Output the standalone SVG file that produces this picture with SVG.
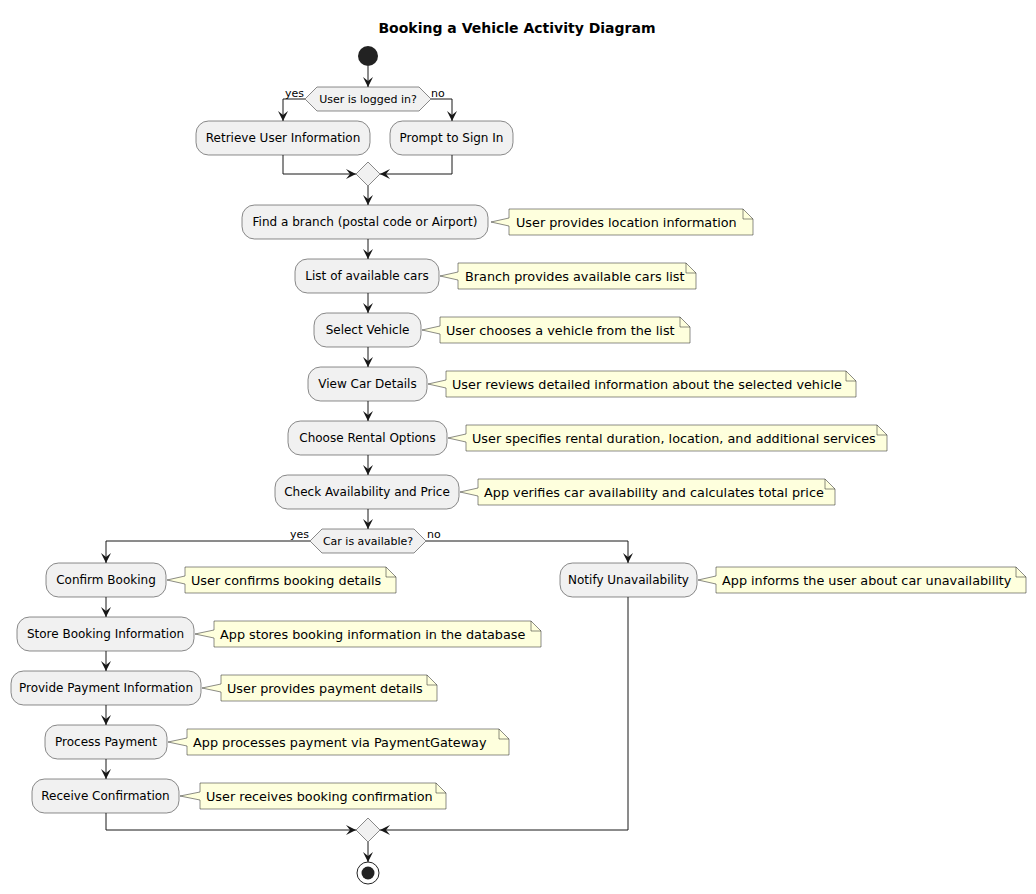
<svg xmlns="http://www.w3.org/2000/svg" width="1036" height="894" viewBox="0 0 1036 894">
  <defs>
    <marker id="arrow" viewBox="0 0 10 10" refX="10" refY="5" markerWidth="10" markerHeight="10" markerUnits="userSpaceOnUse" orient="auto">
      <path d="M0,0 L10,5 L0,10 L4,5 Z" fill="#181818"/>
    </marker>
  </defs>
  <style>
    text { font-family: "DejaVu Sans", "Liberation Sans", sans-serif; fill: #000000; }
    .title { font-size: 14px; font-weight: bold; text-anchor: middle; }
    .act rect { fill: #F1F1F1; stroke: #181818; stroke-width: 0.5; }
    .act text { font-size: 12px; text-anchor: middle; }
    .dec polygon { fill: #F1F1F1; stroke: #181818; stroke-width: 0.5; }
    .dec text { font-size: 11px; text-anchor: middle; }
    .lbl { font-size: 11px; }
    .note polygon { fill: #FEFFDD; stroke: #181818; stroke-width: 0.5; }
    .note path { fill: none; stroke: #181818; stroke-width: 0.5; }
    .note text { font-size: 12.8px; }
    .edges path { fill: none; stroke: #181818; stroke-width: 1; marker-end: url(#arrow); }
  </style>
  <rect x="0" y="0" width="1036" height="894" fill="#FFFFFF"/>

  <text class="title" x="517" y="33">Booking a Vehicle Activity Diagram</text>

  <!-- start / end -->
  <g id="start"><circle cx="368" cy="56" r="10" fill="#222222"/></g>
  <g id="end">
    <circle cx="368" cy="873" r="11" fill="none" stroke="#222222" stroke-width="1"/>
    <circle cx="368" cy="873" r="6.5" fill="#222222"/>
  </g>

  <!-- decisions and merges -->
  <g id="dec-login" class="dec">
    <polygon points="305,99 317,87 419,87 431,99 419,111 317,111"/>
    <text x="368" y="103">User is logged in?</text>
  </g>
  <g id="merge-login" class="dec"><polygon points="368,162 380,174 368,186 356,174"/></g>
  <g id="dec-available" class="dec">
    <polygon points="310,541 322,529 414,529 426,541 414,553 322,553"/>
    <text x="368" y="545">Car is available?</text>
  </g>
  <g id="merge-end" class="dec"><polygon points="368,818 380,830 368,842 356,830"/></g>

  <!-- activities -->
  <g id="retrieve" class="act"><rect x="196" y="121" width="174" height="34" rx="12.5"/><text x="283" y="142">Retrieve User Information</text></g>
  <g id="prompt" class="act"><rect x="390" y="121" width="123" height="34" rx="12.5"/><text x="451.5" y="142">Prompt to Sign In</text></g>
  <g id="find" class="act"><rect x="242" y="205" width="246" height="34" rx="12.5"/><text x="365" y="226">Find a branch (postal code or Airport)</text></g>
  <g id="list" class="act"><rect x="295" y="259" width="144" height="34" rx="12.5"/><text x="367" y="280">List of available cars</text></g>
  <g id="select" class="act"><rect x="314" y="313" width="107" height="34" rx="12.5"/><text x="367.5" y="334">Select Vehicle</text></g>
  <g id="view" class="act"><rect x="308" y="367" width="119" height="34" rx="12.5"/><text x="367.5" y="388">View Car Details</text></g>
  <g id="choose" class="act"><rect x="288" y="421" width="159" height="34" rx="12.5"/><text x="367.5" y="442">Choose Rental Options</text></g>
  <g id="check" class="act"><rect x="275" y="475" width="184" height="34" rx="12.5"/><text x="367" y="496">Check Availability and Price</text></g>
  <g id="confirm" class="act"><rect x="46" y="563" width="120" height="34" rx="12.5"/><text x="106" y="584">Confirm Booking</text></g>
  <g id="notify" class="act"><rect x="560" y="563" width="137" height="34" rx="12.5"/><text x="628.5" y="584">Notify Unavailability</text></g>
  <g id="store" class="act"><rect x="17" y="617" width="177" height="34" rx="12.5"/><text x="105.5" y="638">Store Booking Information</text></g>
  <g id="provide" class="act"><rect x="11" y="671" width="190" height="34" rx="12.5"/><text x="106" y="692">Provide Payment Information</text></g>
  <g id="process" class="act"><rect x="45" y="725" width="122" height="34" rx="12.5"/><text x="106" y="746">Process Payment</text></g>
  <g id="receive" class="act"><rect x="32" y="779" width="147" height="34" rx="12.5"/><text x="105.5" y="800">Receive Confirmation</text></g>

  <!-- notes: body with pointer, folded corner -->
  <g id="note-find" class="note">
    <polygon points="509,209 743,209 753,219 753,235 509,235 509,226 491,222 509,218"/>
    <path d="M743,209 V219 H753"/>
    <text x="516" y="227">User provides location information</text>
  </g>
  <g id="note-list" class="note">
    <polygon points="458,263 686,263 696,273 696,289 458,289 458,280 440,276 458,272"/>
    <path d="M686,263 V273 H696"/>
    <text x="465" y="281">Branch provides available cars list</text>
  </g>
  <g id="note-select" class="note">
    <polygon points="440,317 680,317 690,327 690,343 440,343 440,334 422,330 440,326"/>
    <path d="M680,317 V327 H690"/>
    <text x="446" y="335">User chooses a vehicle from the list</text>
  </g>
  <g id="note-view" class="note">
    <polygon points="446,371 846,371 856,381 856,397 446,397 446,388 428,384 446,380"/>
    <path d="M846,371 V381 H856"/>
    <text x="452" y="389">User reviews detailed information about the selected vehicle</text>
  </g>
  <g id="note-choose" class="note">
    <polygon points="466,425 877,425 887,435 887,451 466,451 466,442 448,438 466,434"/>
    <path d="M877,425 V435 H887"/>
    <text x="472" y="443">User specifies rental duration, location, and additional services</text>
  </g>
  <g id="note-check" class="note">
    <polygon points="478,479 825,479 835,489 835,505 478,505 478,496 460,492 478,488"/>
    <path d="M825,479 V489 H835"/>
    <text x="484" y="497">App verifies car availability and calculates total price</text>
  </g>
  <g id="note-confirm" class="note">
    <polygon points="185,567 386,567 396,577 396,593 185,593 185,584 167,580 185,576"/>
    <path d="M386,567 V577 H396"/>
    <text x="191" y="585">User confirms booking details</text>
  </g>
  <g id="note-notify" class="note">
    <polygon points="716,567 1016,567 1026,577 1026,593 716,593 716,584 698,580 716,576"/>
    <path d="M1016,567 V577 H1026"/>
    <text x="722" y="585">App informs the user about car unavailability</text>
  </g>
  <g id="note-store" class="note">
    <polygon points="214,621 531,621 541,631 541,647 214,647 214,638 195,634 214,630"/>
    <path d="M531,621 V631 H541"/>
    <text x="220" y="639">App stores booking information in the database</text>
  </g>
  <g id="note-provide" class="note">
    <polygon points="221,675 427,675 437,685 437,701 221,701 221,692 202,688 221,684"/>
    <path d="M427,675 V685 H437"/>
    <text x="227" y="693">User provides payment details</text>
  </g>
  <g id="note-process" class="note">
    <polygon points="187,729 499,729 509,739 509,755 187,755 187,746 168,742 187,738"/>
    <path d="M499,729 V739 H509"/>
    <text x="193" y="747">App processes payment via PaymentGateway</text>
  </g>
  <g id="note-receive" class="note">
    <polygon points="200,783 436,783 446,793 446,809 200,809 200,800 180,796 200,792"/>
    <path d="M436,783 V793 H446"/>
    <text x="206" y="801">User receives booking confirmation</text>
  </g>

  <!-- connectors -->
  <g id="connectors" class="edges">
    <path d="M368,66 V87"/>
    <path d="M305,99 H283 V121"/>
    <path d="M431,99 H452 V121"/>
    <path d="M283,155 V174 H356"/>
    <path d="M452,155 V174 H380"/>
    <path d="M368,186 V205"/>
    <path d="M368,239 V259"/>
    <path d="M368,293 V313"/>
    <path d="M368,347 V367"/>
    <path d="M368,401 V421"/>
    <path d="M368,455 V475"/>
    <path d="M368,509 V529"/>
    <path d="M310,541 H106 V563"/>
    <path d="M426,541 H628 V563"/>
    <path d="M106,597 V617"/>
    <path d="M106,651 V671"/>
    <path d="M106,705 V725"/>
    <path d="M106,759 V779"/>
    <path d="M106,813 V830 H356"/>
    <path d="M628,597 V830 H380"/>
    <path d="M368,842 V862"/>
  </g>

  <!-- branch labels -->
  <text class="lbl" x="304" y="97" text-anchor="end">yes</text>
  <text class="lbl" x="431" y="97">no</text>
  <text class="lbl" x="309" y="538" text-anchor="end">yes</text>
  <text class="lbl" x="427" y="538">no</text>
</svg>
